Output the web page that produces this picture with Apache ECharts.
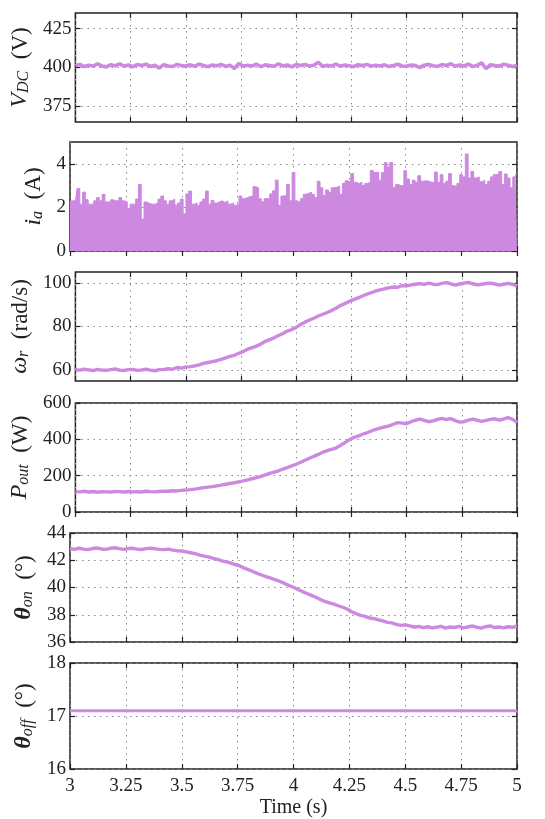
<!DOCTYPE html>
<html><head><meta charset="utf-8">
<script src="https://cdn.jsdelivr.net/npm/echarts@6/dist/echarts.min.js"></script>
<style>html,body{margin:0;padding:0;background:#fff}#c{width:545px;height:819px}</style>
</head><body><div id="c"></div>
<script>
// ---- data ----
const timeStart = 3, timeEnd = 5;
const xTicks = [3, 3.25, 3.5, 3.75, 4, 4.25, 4.5, 4.75, 5];

const vdcTicks = [375, 400, 425];
const vdc = [401.2,402.0,400.6,401.5,400.9,402.3,401.0,400.4,401.8,401.1,402.4,400.8,401.6,400.5,401.9,401.3,402.1,400.7,401.4,399.6,
401.8,401.0,400.6,402.0,401.2,400.9,401.7,400.8,402.2,401.3,400.5,401.6,401.1,402.0,400.7,401.5,399.4,402.6,400.9,401.4,
401.0,402.1,400.6,401.7,401.2,400.8,402.3,401.0,401.6,400.4,401.9,401.3,402.0,400.9,401.5,403.4,400.7,401.4,401.0,402.2,
400.8,401.6,401.1,400.5,401.8,401.2,402.0,400.9,401.4,401.0,401.7,400.6,401.3,402.1,401.0,400.8,401.6,401.2,399.9,401.5,
402.0,401.1,400.7,401.9,401.3,402.4,400.8,401.6,401.0,402.2,400.6,401.4,403.0,399.3,401.8,401.2,400.9,402.1,401.5,400.7,401.3];

const iaTicks = [0, 2, 4];
const ia = [2.30,2.30,2.30,2.87,2.15,2.70,2.35,2.15,2.15,2.30,
2.45,2.30,2.60,2.25,2.25,2.35,2.30,2.30,2.45,2.30,
2.25,1.95,2.15,2.15,2.38,3.05,1.46,2.25,2.18,2.15,
2.15,2.20,2.38,2.52,2.30,2.15,2.30,2.38,2.10,2.20,
2.38,1.70,2.62,2.75,2.15,2.20,2.10,2.25,2.38,2.75,
2.15,2.32,2.20,2.25,2.30,2.22,2.30,2.15,2.20,2.10,
2.15,2.52,2.40,2.45,2.50,2.52,2.95,2.90,2.40,2.25,
2.40,2.40,2.62,2.76,3.25,2.10,2.52,2.55,3.05,2.30,
3.60,2.30,2.22,2.40,2.60,2.65,2.70,2.60,2.45,3.20,
2.90,2.55,2.80,2.70,2.90,2.92,2.98,2.60,3.10,3.22,
3.15,3.55,3.15,3.10,3.15,3.00,3.10,3.15,3.70,3.60,
3.62,3.25,3.60,4.05,3.85,4.06,2.92,3.05,3.00,3.00,
3.68,3.30,3.05,3.25,3.15,3.45,3.20,3.22,3.20,3.15,
3.15,3.62,3.15,3.50,3.10,3.20,3.55,3.00,2.95,3.10,
3.50,3.40,4.45,3.35,3.65,3.35,3.40,3.18,3.25,3.05,
3.20,3.40,3.50,3.52,3.65,3.05,3.53,3.35,2.90,3.40,
3.50];

const wrTicks = [60, 80, 100];
const wr = [60.2,60.0,60.4,60.1,59.8,60.3,60.0,59.9,60.2,60.5,60.0,59.8,60.2,60.3,59.9,60.1,60.4,60.0,59.7,60.2,60.3,
60.6,60.4,61.2,60.9,61.4,61.6,61.9,62.4,63.1,63.5,63.9,64.3,64.9,65.6,66.3,66.8,67.7,68.5,69.6,70.3,71.0,72.0,73.2,74.0,74.8,75.9,76.8,77.9,78.6,79.6,
80.9,82.0,83.0,83.8,84.8,85.6,86.4,87.3,88.4,89.6,
90.5,91.5,92.3,93.1,94.0,94.8,95.5,96.3,96.8,97.3,
97.7,98.1,98.0,98.8,98.6,99.1,99.4,99.7,99.3,99.9,
99.4,99.2,99.8,100.1,99.6,99.0,99.5,99.9,100.2,99.6,
99.1,99.4,99.7,99.9,99.5,99.0,99.4,99.8,99.3,98.6];

const poutTicks = [0, 200, 400, 600];
const pout = [112,111,114,110,113,109,112,111,110,113,112,110,113,111,112,110,114,112,111,113,115,
114,117,116,119,121,123,126,130,134,137,140,144,148,153,157,161,166,171,177,183,189,196,204,212,219,227,236,245,254,263,
274,285,296,306,317,329,338,345,352,366,
382,397,410,418,428,436,446,455,462,468,
474,483,492,489,486,497,505,511,504,497,
502,510,515,509,514,503,495,497,506,511,
505,499,504,510,513,506,512,519,510,493];

const thetaOnTicks = [36, 38, 40, 42, 44];
const thetaOn = [42.85,42.80,42.88,42.82,42.78,42.86,42.90,42.83,42.80,42.87,42.92,42.85,42.80,42.86,42.88,42.82,42.79,42.85,42.89,42.84,42.80,
42.78,42.82,42.74,42.70,42.68,42.62,42.55,42.48,42.38,42.30,42.24,42.14,42.06,41.96,41.88,41.78,41.68,41.58,41.42,41.30,41.16,41.02,40.90,40.78,40.68,40.56,40.44,40.30,40.14,40.02,
39.86,39.70,39.56,39.42,39.28,39.12,38.98,38.88,38.78,38.66,
38.55,38.42,38.22,38.08,37.96,37.88,37.76,37.72,37.62,37.55,
37.44,37.40,37.30,37.22,37.26,37.18,37.10,37.14,37.06,37.12,
37.04,37.08,37.16,37.02,37.10,37.06,37.15,37.04,37.10,37.18,
37.08,37.02,37.12,37.18,37.06,37.10,37.04,37.12,37.08,37.16];

const thetaOffTicks = [16, 17, 18];
const thetaOff = [17.1, 17.1];

// ---- styling / layout ----
const FONT = "'Liberation Serif','DejaVu Serif',serif";
const LINE = '#cd88e0';
const INK = '#222';
const tops = [13, 142, 272, 403, 533, 663];
const H = 109;

function pairs(vals) {
  const n = vals.length;
  return vals.map((v, i) => [timeStart + (timeEnd - timeStart) * i / (n - 1), v]);
}

const rich = {
  m: {fontFamily: FONT, fontSize: 24, fontStyle: 'italic', color: INK, lineHeight: 28, verticalAlign: 'bottom'},
  b: {fontFamily: FONT, fontSize: 24, fontStyle: 'italic', fontWeight: 'bold', color: INK, lineHeight: 28, verticalAlign: 'bottom'},
  s: {fontFamily: FONT, fontSize: 16, fontStyle: 'italic', color: INK, lineHeight: 15, verticalAlign: 'bottom'},
  n: {fontFamily: FONT, fontSize: 23, color: INK, lineHeight: 28, verticalAlign: 'bottom'}
};

const panels = [
  {data: vdc, min: 365, max: 435, ticks: vdcTicks, name: '{m|V}{s|DC}{n|  (V)}', gap: 37, w: 3.6},
  {data: ia, min: 0, max: 5, ticks: iaTicks, name: '{m|i}{s|a}{n|  (A)}', gap: 24, area: true},
  {data: wr, min: 55, max: 105, ticks: wrTicks, name: '{m|ω}{s|r}{n|  (rad/s)}', gap: 37, w: 3.4},
  {data: pout, min: 0, max: 600, ticks: poutTicks, name: '{m|P}{s|out}{n|  (W)}', gap: 36, w: 3.4},
  {data: thetaOn, min: 36, max: 44, ticks: thetaOnTicks, name: '{b|θ}{s|on}{n|  (°)}', gap: 29, w: 3.4},
  {data: thetaOff, min: 16, max: 18, ticks: thetaOffTicks, name: '{b|θ}{s|off}{n|  (°)}', gap: 27, w: 3}
];

const grid = [], xAxis = [], yAxis = [], series = [];
const split = {show: true, lineStyle: {color: '#888', width: 1, type: [1.5, 4.5]}};
const tick = {show: true, inside: true, length: 5, lineStyle: {color: INK, width: 1.2}};

panels.forEach((p, i) => {
  const last = i === panels.length - 1;
  grid.push({left: 70, right: 28, top: tops[i], height: H, show: true, borderColor: INK, borderWidth: 1.5, backgroundColor: 'transparent'});
  xAxis.push({type: 'value', gridIndex: i, min: timeStart, max: timeEnd, interval: 0.25, position: 'bottom',
    axisLine: {show: false}, axisTick: tick, splitLine: split,
    axisLabel: {show: last, fontFamily: FONT, fontSize: 19, color: INK, margin: 8},
    name: last ? 'Time (s)' : '', nameLocation: 'middle', nameGap: 29,
    nameTextStyle: {fontFamily: FONT, fontSize: 20, color: INK}});
  xAxis.push({type: 'value', gridIndex: i, min: timeStart, max: timeEnd, interval: 0.25, position: 'top',
    axisLine: {show: false}, axisTick: tick, splitLine: {show: false}, axisLabel: {show: false}});
  yAxis.push({type: 'value', gridIndex: i, min: p.min, max: p.max, position: 'left',
    axisLine: {show: false}, axisTick: Object.assign({customValues: p.ticks}, tick), splitLine: split,
    axisLabel: {customValues: p.ticks, fontFamily: FONT, fontSize: 19, color: INK, margin: 4},
    name: p.name, nameLocation: 'middle', nameGap: p.gap, nameRotate: 90,
    nameTextStyle: {rich: rich}});
  yAxis.push({type: 'value', gridIndex: i, min: p.min, max: p.max, position: 'right',
    axisLine: {show: false}, axisTick: Object.assign({customValues: p.ticks}, tick), splitLine: {show: false},
    axisLabel: {show: false}});
  const s = {type: 'line', xAxisIndex: 2 * i, yAxisIndex: 2 * i, data: pairs(p.data), showSymbol: false, symbol: 'none',
    silent: true, animation: false, lineStyle: {color: LINE, width: p.w || 3}, z: 3};
  if (p.area) {
    s.step = 'middle';
    s.lineStyle = {color: LINE, width: 1};
    s.areaStyle = {color: LINE, opacity: 1};
  }
  series.push(s);
});

const chart = echarts.init(document.getElementById('c'), null, {renderer: 'canvas'});
chart.setOption({animation: false, backgroundColor: '#fff', grid, xAxis, yAxis, series});
</script>
</body></html>
